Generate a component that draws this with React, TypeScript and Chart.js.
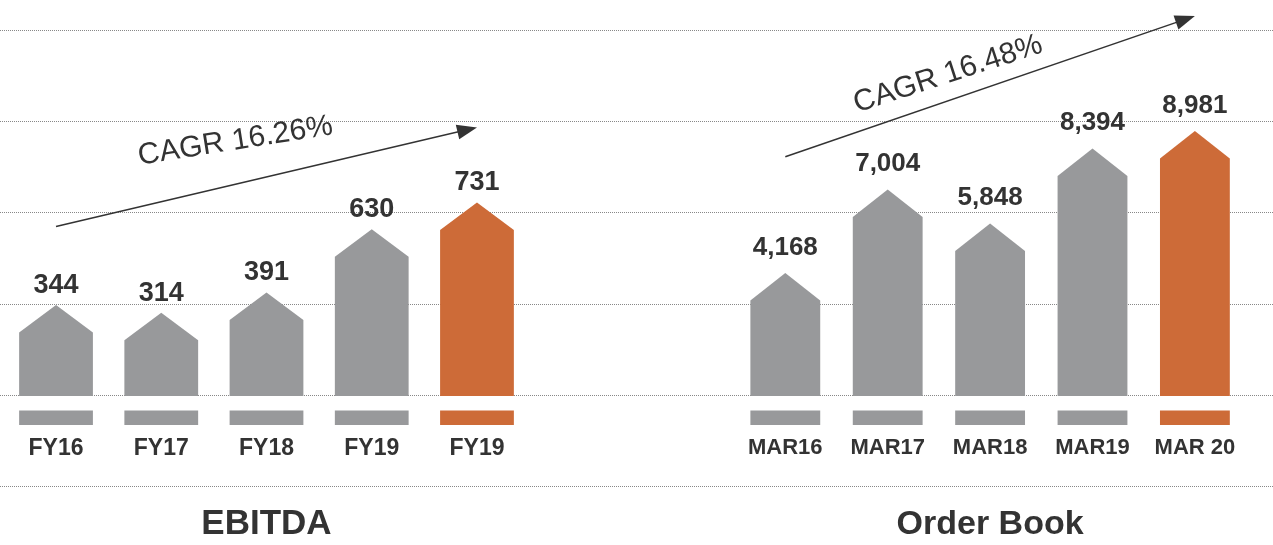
import React, { useEffect, useRef } from 'react';
import { Chart, registerables } from 'chart.js';

Chart.register(...registerables);

// ---------- data ----------
const ebitdaCategories = ['FY16', 'FY17', 'FY18', 'FY19', 'FY19'];
const ebitdaValues = [344, 314, 391, 630, 731];
const orderCategories = ['MAR16', 'MAR17', 'MAR18', 'MAR19', 'MAR 20'];
const orderValues = [4168, 7004, 5848, 8394, 8981];
const highlighted = [false, false, false, false, true];
const ebitdaTitle = 'EBITDA';
const orderTitle = 'Order Book';
const ebitdaCagrLabel = 'CAGR 16.26%';
const orderCagrLabel = 'CAGR 16.48%';
// trend arrow levels (value units) at the first and the last bar
const ebitdaTrend = [640, 1014];
const orderTrend = [8112, 12881];
const gridLevels = [-1, 0, 1, 2, 3, 4];

// ---------- styles / layout ----------
const FONT = '"Liberation Sans", Arial, Helvetica, sans-serif';
const TEXT = '#333333';
const GRAY = '#98999b';
const ORANGE = '#cd6b38';
const H = 545;
const AREA_TOP = 30.5;
const AREA_BOTTOM = 396;
const TICK_CENTER = 448.3;
const ROOF = 27.5;

const panels = [
  {
    key: 'ebitda',
    categories: ebitdaCategories,
    values: ebitdaValues,
    title: ebitdaTitle,
    cagr: ebitdaCagrLabel,
    trend: ebitdaTrend,
    left: 0,
    width: 630,
    padL: 3.4,
    padR: 100.4,
    max: 1380,
    barPct: 0.701,
    tickSize: 23,
    valueSize: 27,
    titleSize: 35,
    labelGap: 12,
    textAt: [1.705, 962],
    textAngle: -9,
  },
  {
    key: 'order',
    categories: orderCategories,
    values: orderValues,
    title: orderTitle,
    cagr: orderCagrLabel,
    trend: orderTrend,
    left: 630,
    width: 643,
    padL: 104.1,
    padR: 26.9,
    max: 12390,
    barPct: 0.682,
    tickSize: 22,
    valueSize: 26,
    titleSize: 34,
    labelGap: 18,
    textAt: [1.59, 10906],
    textAngle: -18,
  },
];

function makePlugin(cfg: any) {
  return {
    id: 'housePanel_' + cfg.key,
    beforeDatasetsDraw(chart: any) {
      const ctx = chart.ctx;
      const yg = chart.scales.yg;
      ctx.save();
      ctx.strokeStyle = '#888888';
      ctx.lineWidth = 1;
      ctx.setLineDash([1, 1]);
      for (const v of gridLevels) {
        const y = Math.round(yg.getPixelForValue(v)) - 0.5;
        ctx.beginPath();
        ctx.moveTo(0, y);
        ctx.lineTo(chart.width, y);
        ctx.stroke();
      }
      ctx.restore();
    },
    beforeDatasetDraw(chart: any, args: any) {
      const ctx = chart.ctx;
      const ds = chart.data.datasets[args.index];
      ctx.save();
      args.meta.data.forEach((el: any, i: number) => {
        const { x, y, base, width } = el.getProps(['x', 'y', 'base', 'width'], true);
        const l = x - width / 2;
        const r = x + width / 2;
        const sh = Math.min(y + ROOF, base);
        ctx.fillStyle = ds.backgroundColor[i];
        ctx.beginPath();
        ctx.moveTo(l, base);
        ctx.lineTo(l, sh);
        ctx.lineTo(x, y);
        ctx.lineTo(r, sh);
        ctx.lineTo(r, base);
        ctx.closePath();
        ctx.fill();
        ctx.fillRect(l, base + 14.5, width, 14.5);
      });
      ctx.restore();
      return false;
    },
    afterDatasetsDraw(chart: any) {
      const ctx = chart.ctx;
      const xs = chart.scales.x;
      const ys = chart.scales.y;
      const meta = chart.getDatasetMeta(0);
      ctx.save();
      // value labels
      ctx.fillStyle = TEXT;
      ctx.font = `bold ${cfg.valueSize}px ${FONT}`;
      ctx.textAlign = 'center';
      ctx.textBaseline = 'alphabetic';
      meta.data.forEach((el: any, i: number) => {
        const { x, y } = el.getProps(['x', 'y'], true);
        ctx.fillText(cfg.values[i].toLocaleString('en-US'), x, y - cfg.labelGap);
      });
      // trend arrow
      const n = cfg.values.length - 1;
      const x1 = xs.getPixelForValue(0);
      const y1 = ys.getPixelForValue(cfg.trend[0]);
      const x2 = xs.getPixelForValue(n);
      const y2 = ys.getPixelForValue(cfg.trend[1]);
      const ang = Math.atan2(y2 - y1, x2 - x1);
      const headLen = 20;
      const headW = 7.5;
      const bx = x2 - headLen * Math.cos(ang);
      const by = y2 - headLen * Math.sin(ang);
      ctx.strokeStyle = TEXT;
      ctx.lineWidth = 1.5;
      ctx.beginPath();
      ctx.moveTo(x1, y1);
      ctx.lineTo(bx + 2 * Math.cos(ang), by + 2 * Math.sin(ang));
      ctx.stroke();
      ctx.beginPath();
      ctx.moveTo(x2, y2);
      ctx.lineTo(bx + headW * Math.sin(ang), by - headW * Math.cos(ang));
      ctx.lineTo(bx - headW * Math.sin(ang), by + headW * Math.cos(ang));
      ctx.closePath();
      ctx.fill();
      // CAGR text
      ctx.translate(xs.getPixelForValue(cfg.textAt[0]), ys.getPixelForValue(cfg.textAt[1]));
      ctx.rotate((cfg.textAngle * Math.PI) / 180);
      ctx.font = `30px ${FONT}`;
      ctx.textAlign = 'center';
      ctx.textBaseline = 'middle';
      ctx.fillText(cfg.cagr, 0, 0);
      ctx.restore();
    },
  };
}

function Panel({ cfg }: { cfg: any }) {
  const ref = useRef<HTMLCanvasElement | null>(null);
  useEffect(() => {
    // gap between bar base and label centre is produced by a (hidden) tick mark length
    const tickLen = TICK_CENTER - AREA_BOTTOM - 0.6 * cfg.tickSize;
    const axisH = tickLen + 1.2 * cfg.tickSize;
    const titlePadTop = H - AREA_BOTTOM - axisH - 1.2 * cfg.titleSize;
    const chart = new Chart(ref.current as HTMLCanvasElement, {
      type: 'bar',
      data: {
        labels: cfg.categories,
        datasets: [
          {
            data: cfg.values,
            backgroundColor: highlighted.map((h) => (h ? ORANGE : GRAY)),
            barPercentage: cfg.barPct,
            categoryPercentage: 1,
            yAxisID: 'y',
          },
        ],
      },
      options: {
        responsive: false,
        maintainAspectRatio: false,
        animation: false,
        events: [],
        layout: { autoPadding: false, padding: { top: AREA_TOP, bottom: 0, left: cfg.padL, right: cfg.padR } },
        plugins: {
          legend: { display: false },
          tooltip: { enabled: false },
          title: {
            display: true,
            text: cfg.title,
            position: 'bottom',
            color: TEXT,
            font: { family: FONT, size: cfg.titleSize, weight: 'bold', lineHeight: 1.2 },
            padding: { top: titlePadTop, bottom: 0 },
          },
        },
        scales: {
          x: {
            type: 'category',
            offset: true,
            grid: { display: false, drawTicks: true, tickLength: tickLen },
            border: { display: false },
            ticks: {
              color: TEXT,
              padding: 0,
              maxRotation: 0,
              autoSkip: false,
              font: { family: FONT, size: cfg.tickSize, weight: 'bold', lineHeight: 1.2 },
            },
          },
          y: { type: 'linear', display: false, min: 0, max: cfg.max },
          yg: { type: 'linear', axis: 'y', display: false, min: 0, max: 4 },
        },
      } as any,
      plugins: [makePlugin(cfg)],
    });
    return () => chart.destroy();
  }, []);
  return (
    <canvas
      ref={ref}
      width={cfg.width}
      height={H}
      style={{ position: 'absolute', left: cfg.left, top: 0, width: cfg.width, height: H }}
    />
  );
}

export default function App() {
  return (
    <div
      style={{
        position: 'absolute',
        left: 0,
        top: 0,
        width: 1273,
        height: H,
        background: '#ffffff',
        overflow: 'hidden',
      }}
    >
      {panels.map((p) => (
        <Panel key={p.key} cfg={p} />
      ))}
    </div>
  );
}
